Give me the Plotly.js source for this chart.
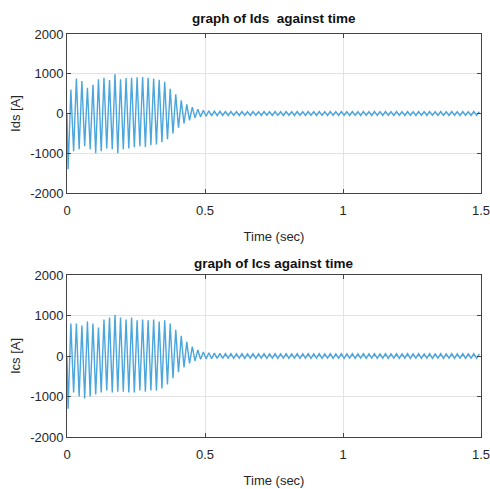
<!DOCTYPE html>
<html>
<head>
<meta charset="utf-8">
<script src="https://cdn.plot.ly/plotly-3.0.1.min.js"></script>
<style>html,body{margin:0;padding:0;background:#fff;}#chart{width:490px;height:489px;}</style>
</head>
<body>
<div id="chart"></div>
<script>
// Half-cycle peak values (one entry per 50 Hz cycle, 75 cycles over 1.5 s)
const halfPeriod = 0.01;   // s, time between successive half-cycle peaks
const startTime = 0.004;   // s, time of the first (negative) peak

const idsLower = [-1400, -950, -900, -820, -900, -1000, -950, -880, -900, -1000, -900, -880, -850, -820, -850, -800, -780, -720, -650, -500, -360, -250, -170, -110, -80,
  -70, -60, -55, -50, -50, -45, -50, -45, -50, -45, -50, -45, -50, -45, -50, -45, -50, -45, -50, -45, -50, -45, -50, -45, -50,
  -45, -50, -45, -50, -45, -50, -45, -50, -45, -50, -45, -50, -45, -50, -45, -50, -45, -50, -45, -50, -45, -50, -45, -50, -45];
const idsUpper = [600, 880, 820, 650, 720, 860, 900, 840, 990, 860, 890, 900, 910, 920, 900, 880, 850, 800, 620, 480, 330, 230, 160, 110, 80,
  70, 60, 55, 50, 50, 45, 50, 45, 50, 45, 50, 45, 50, 45, 50, 45, 50, 45, 50, 45, 50, 45, 50, 45, 50,
  45, 50, 45, 50, 45, 50, 45, 50, 45, 50, 45, 50, 45, 50, 45, 50, 45, 50, 45, 50, 45, 50, 45, 50, 45];

const icsLower = [-1300, -900, -1000, -1050, -1000, -950, -900, -850, -900, -880, -880, -900, -900, -850, -880, -850, -850, -800, -700, -550, -400, -280, -180, -120, -80,
  -70, -65, -60, -60, -55, -60, -55, -60, -55, -60, -55, -60, -55, -60, -55, -60, -55, -60, -55, -60, -55, -60, -55, -60, -55,
  -60, -55, -60, -55, -60, -55, -60, -55, -60, -55, -60, -55, -60, -55, -60, -55, -60, -55, -60, -55, -60, -55, -60, -55, -60];
const icsUpper = [800, 800, 750, 850, 800, 700, 900, 950, 1020, 950, 900, 950, 880, 900, 880, 900, 850, 880, 800, 650, 500, 350, 230, 150, 100,
  80, 70, 65, 60, 60, 55, 60, 55, 60, 55, 60, 55, 60, 55, 60, 55, 60, 55, 60, 55, 60, 55, 60, 55, 60,
  55, 60, 55, 60, 55, 60, 55, 60, 55, 60, 55, 60, 55, 60, 55, 60, 55, 60, 55, 60, 55, 60, 55, 60, 55];

const xTicks = [0, 0.5, 1, 1.5];
const xTickText = ['0', '0.5', '1', '1.5'];
const yTicks = [-2000, -1000, 0, 1000, 2000];
const yTickText = ['-2000', '-1000', '0', '1000', '2000'];

function series(lower, upper) {
  const t = [0], v = [0];
  for (let k = 0; k < lower.length; k++) {
    t.push(startTime + 2 * k * halfPeriod); v.push(lower[k]);
    t.push(startTime + (2 * k + 1) * halfPeriod); v.push(upper[k]);
  }
  return {t, v};
}

const a = series(idsLower, idsUpper);
const b = series(icsLower, icsUpper);
const lineColor = '#4aa6dc';

const traces = [
  {x: a.t, y: a.v, type: 'scatter', mode: 'lines', line: {color: lineColor, width: 1.4}, xaxis: 'x', yaxis: 'y', hoverinfo: 'skip'},
  {x: b.t, y: b.v, type: 'scatter', mode: 'lines', line: {color: lineColor, width: 1.4}, xaxis: 'x2', yaxis: 'y2', hoverinfo: 'skip'}
];

const font = {family: 'Liberation Sans, Arial, sans-serif', size: 13, color: '#262626'};
function xAxis(anchor) {
  return {
    domain: [67/490, 481/490], anchor: anchor, range: [0, 1.5],
    tickvals: xTicks, ticktext: xTickText, ticks: 'inside', ticklen: 4, tickcolor: '#444',
    showline: true, mirror: 'ticks', linecolor: '#444', linewidth: 1,
    showgrid: true, gridcolor: '#e3e3e3', zeroline: false,
    tickfont: font, ticklabelstandoff: 5, ticklabeloverflow: 'allow',
    title: {text: 'Time (sec)', font: font, standoff: 15}
  };
}
function yAxis(domain, anchor, label) {
  return {
    domain: domain, anchor: anchor, range: [-2000, 2000],
    tickvals: yTicks, ticktext: yTickText, ticks: 'inside', ticklen: 4, tickcolor: '#444',
    showline: true, mirror: 'ticks', linecolor: '#444', linewidth: 1,
    showgrid: true, gridcolor: '#e3e3e3', zeroline: false,
    tickfont: font, title: {text: label, font: font, standoff: 6}
  };
}

const layout = {
  width: 490, height: 489,
  margin: {l: 0, r: 0, t: 0, b: 0},
  paper_bgcolor: '#fff', plot_bgcolor: '#fff',
  showlegend: false,
  xaxis: xAxis('y'),
  yaxis: yAxis([(489-193)/489, (489-34)/489], 'x', 'Ids [A]'),
  xaxis2: xAxis('y2'),
  yaxis2: yAxis([(489-437)/489, (489-275)/489], 'x2', 'Ics [A]'),
  annotations: [
    {text: '<b>graph of Ids&nbsp; against time</b>', xref: 'paper', yref: 'paper', x: 274/490, y: 1 - 18/489, xanchor: 'center', yanchor: 'middle', showarrow: false, font: {family: font.family, size: 13.5, color: '#111'}},
    {text: '<b>graph of Ics against time</b>', xref: 'paper', yref: 'paper', x: 274/490, y: 1 - 263/489, xanchor: 'center', yanchor: 'middle', showarrow: false, font: {family: font.family, size: 13.5, color: '#111'}}
  ]
};

Plotly.newPlot('chart', traces, layout, {staticPlot: true, displayModeBar: false});
</script>
</body>
</html>
